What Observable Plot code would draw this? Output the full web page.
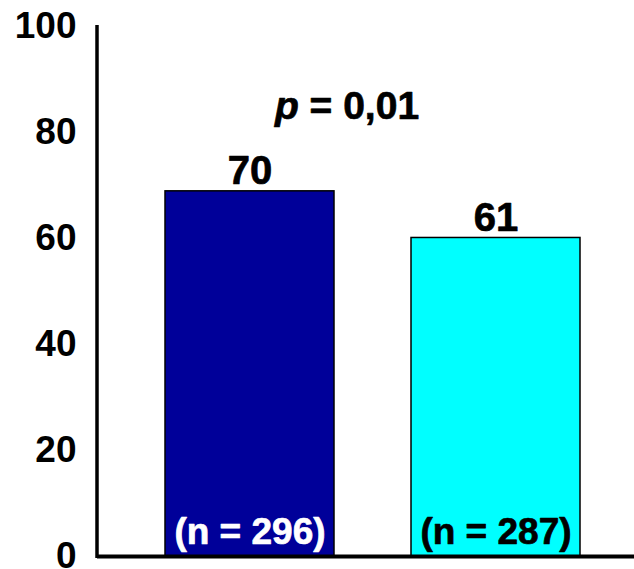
<!DOCTYPE html>
<html>
<head>
<meta charset="utf-8">
<script src="https://cdn.jsdelivr.net/npm/d3@7"></script>
<script src="https://cdn.jsdelivr.net/npm/@observablehq/plot@0.6"></script>
<style>
  html, body { margin: 0; padding: 0; background: #fff; }
  #chart svg { display: block; }
</style>
</head>
<body>
<div id="chart"></div>
<script>
// Data
const groups = ["A", "B"];
const barValues = [68.9, 60.1];          // bar heights
const valueLabels = ["70", "61"];       // printed labels above bars
const nLabels = ["(n = 296)", "(n = 287)"];
const barColors = ["#000099", "#00FFFF"];
const nLabelColors = ["#ffffff", "#000000"];
const yTicks = [0, 20, 40, 60, 80, 100];
const pLabel = "p = 0,01";

const data = groups.map((g, i) => ({
  group: g, value: barValues[i], label: valueLabels[i],
  n: nLabels[i], color: barColors[i], nColor: nLabelColors[i]
}));

const FONT = "'Liberation Sans', Arial, sans-serif";

const leftAxisLine = (index, scales, values, dimensions) => {
  const g = d3.create("svg:g");
  g.append("line")
    .attr("x1", dimensions.marginLeft).attr("x2", dimensions.marginLeft)
    .attr("y1", scales.y(100) - 1).attr("y2", scales.y(0) + 2)
    .attr("stroke", "black").attr("stroke-width", 3.5);
  return g.node();
};

const chart = Plot.plot({
  width: 634,
  height: 569,
  marginLeft: 97,
  marginRight: 0,
  marginTop: 26,
  marginBottom: 13,
  style: { fontFamily: FONT, background: "white" },
  x: { type: "band", domain: groups, range: [165, 580.5], paddingInner: 0.314, paddingOuter: 0, axis: null },
  y: { domain: [0, 100], range: [556, 26] },
  color: { type: "identity" },
  marks: [
    Plot.barY(data, { x: "group", y: "value", fill: "color", stroke: "black", strokeWidth: 1.5 }),
    Plot.axisY({ ticks: yTicks, tickSize: 0, tickPadding: 21, fontSize: 37, fontWeight: "bold", fill: "black", stroke: "black", strokeWidth: 0.7, label: null, tickFormat: d => String(d) }),
    Plot.ruleY([0], { stroke: "black", strokeWidth: 4 }),
    leftAxisLine,
    Plot.text(data, { x: "group", y: "value", text: "label", dy: -7, lineAnchor: "bottom", fontSize: 40, fontWeight: "bold", fill: "black", stroke: "black", strokeWidth: 0.7 }),
    Plot.text(data, { x: "group", y: 0, text: "n", dy: -13, lineAnchor: "bottom", fontSize: 37, fontWeight: "bold", fill: "nColor", stroke: "nColor", strokeWidth: 0.7 }),
    Plot.text([pLabel], { y: 82.6, dx: -19, text: d => d, lineAnchor: "bottom", fontSize: 39, fontWeight: "bold", fill: "black", stroke: "black", strokeWidth: 0.7 })
  ]
});

document.getElementById("chart").appendChild(chart);

// italicise the "p" in the p-value label
d3.select(chart).selectAll("text").filter(function () { return this.textContent === pLabel; })
  .each(function () {
    const t = d3.select(this);
    t.text(null);
    t.append("tspan").attr("font-style", "italic").text("p");
    t.append("tspan").text(" = 0,01");
  });
</script>
</body>
</html>
